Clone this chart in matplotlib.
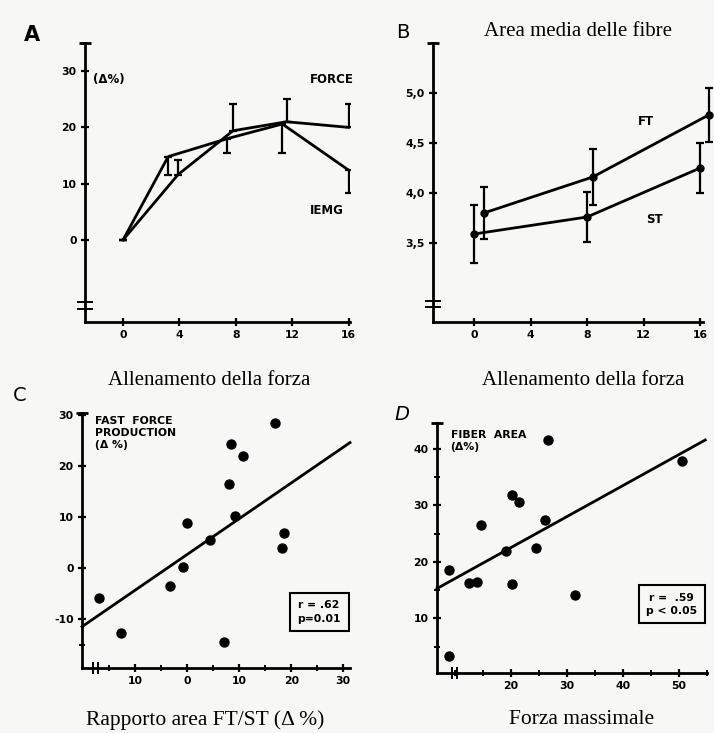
import numpy as np
import matplotlib
matplotlib.use("Agg")
import matplotlib.pyplot as plt

# ---------------- data ----------------
# A: force / iEMG change during strength training (weeks)
force_x = [0, 3.9, 7.8, 11.6, 16]
force_y = [0, 11.6, 19.4, 21.0, 20.0]
force_err_up = [0, 2.6, 4.7, 4.0, 4.1]

iemg_x = [0, 3.2, 7.4, 11.3, 16]
iemg_y = [0, 14.8, 18.0, 20.6, 12.4]
iemg_err_down = [0, 3.2, 2.6, 5.1, 4.1]

# B: mean fibre area
ft_x = [0.7, 8.4, 16.6]
ft_y = [3.80, 4.16, 4.78]
ft_err = [0.26, 0.28, 0.27]
st_x = [0, 8, 16]
st_y = [3.59, 3.76, 4.25]
st_err = [0.29, 0.25, 0.25]

# C: fast force production vs FT/ST area ratio
c_x = [-16.9, -12.7, -3.3, -0.8, 0.0, 4.4, 7.1, 8.1, 8.5, 9.2, 10.7, 16.9, 18.6, 18.2]
c_y = [-5.9, -12.7, -3.5, 0.2, 8.8, 5.5, -14.5, 16.5, 24.3, 10.2, 22.0, 28.4, 6.9, 3.9]
c_fit_x = [-20.2, 31.3]
c_fit_y = [-11.5, 24.6]

# D: fibre area vs maximal force
d_x = [8.9, 8.9, 12.6, 13.9, 14.7, 19.1, 20.2, 21.4, 20.2, 24.4, 26.1, 26.7, 31.4, 50.5]
d_y = [18.6, 3.3, 16.3, 16.5, 26.5, 22.0, 31.9, 30.6, 16.1, 22.5, 27.4, 41.6, 14.2, 37.9]
d_fit_x = [6.8, 54.7]
d_fit_y = [15.3, 41.6]

W, H = 714, 733
fig = plt.figure(figsize=(W / 100, H / 100), dpi=100)
fig.patch.set_facecolor("#f7f7f5")

serif = "Liberation Serif"
tick_font = dict(family="DejaVu Sans", weight="bold", size=7.8)
lw = 2.0


def make_axes(x0, y0, x1, y1):
    # pixel box -> figure fraction
    ax = fig.add_axes([x0 / W, 1 - y1 / H, (x1 - x0) / W, (y1 - y0) / H])
    ax.set_facecolor("none")
    for s in ["top", "right"]:
        ax.spines[s].set_visible(False)
    for s in ["left", "bottom"]:
        ax.spines[s].set_linewidth(2.0)
    ax.tick_params(direction="inout", length=6, width=1.6, pad=3)
    ax.tick_params(which="minor", direction="inout", length=5, width=1.4)
    # little cap on top of y axis
    ax.plot([0], [1], marker="_", ms=8, mew=2, color="k", transform=ax.transAxes, clip_on=False)
    return ax


def set_ticks(ax, xt, xl, yt, yl):
    ax.set_xticks(xt)
    ax.set_xticklabels(xl, **tick_font)
    ax.set_yticks(yt)
    ax.set_yticklabels(yl, **tick_font)


def ybreak(ax, frac):
    for d in (-0.012, 0.012):
        ax.plot([-0.025, 0.025], [frac + d, frac + d], color="k", lw=1.4,
                transform=ax.transAxes, clip_on=False)


def xbreak(ax, frac):
    for d in (-0.01, 0.01):
        ax.plot([frac + d, frac + d], [-0.02, 0.02], color="k", lw=1.4,
                transform=ax.transAxes, clip_on=False)


# ---------------- A ----------------
axA = make_axes(85, 43, 350, 322)
axA.set_xlim(-2.7, 16.1)
axA.set_ylim(-14.6, 35)
set_ticks(axA, [0, 4, 8, 12, 16], ["0", "4", "8", "12", "16"],
          [0, 10, 20, 30], ["0", "10", "20", "30"])
axA.errorbar(force_x, force_y, yerr=[np.zeros(len(force_x)), force_err_up],
             color="k", lw=lw, elinewidth=1.6, capsize=3, capthick=1.6)
axA.errorbar(iemg_x, iemg_y, yerr=[iemg_err_down, np.zeros(len(iemg_x))],
             color="k", lw=lw, elinewidth=1.6, capsize=3, capthick=1.6)
ybreak(axA, 0.06)
axA.text(0.03, 0.87, "(Δ%)", transform=axA.transAxes, fontsize=8.5, fontweight="bold", va="center")
axA.text(0.85, 0.87, "FORCE", transform=axA.transAxes, fontsize=8.5, fontweight="bold", va="center")
axA.text(0.85, 0.40, "IEMG", transform=axA.transAxes, fontsize=8.5, fontweight="bold", va="center")
fig.text(32 / W, 1 - 35 / H, "A", fontsize=15, fontweight="bold", ha="center", va="center")
fig.text(209 / W, 1 - 380 / H, "Allenamento della forza", family=serif, fontsize=15,
         ha="center", va="center")

# ---------------- B ----------------
axB = make_axes(433, 43, 703, 322)
axB.set_xlim(-2.9, 16.2)
axB.set_ylim(2.71, 5.5)
set_ticks(axB, [0, 4, 8, 12, 16], ["0", "4", "8", "12", "16"],
          [3.5, 4.0, 4.5, 5.0], ["3,5", "4,0", "4,5", "5,0"])
axB.errorbar(ft_x, ft_y, yerr=ft_err, color="k", lw=lw, marker="o", ms=5,
             elinewidth=1.6, capsize=3, capthick=1.6, clip_on=False)
axB.errorbar(st_x, st_y, yerr=st_err, color="k", lw=lw, marker="o", ms=5,
             elinewidth=1.6, capsize=3, capthick=1.6, clip_on=False)
ybreak(axB, 0.065)
axB.text(0.76, 0.72, "FT", transform=axB.transAxes, fontsize=8.5, fontweight="bold", va="center")
axB.text(0.79, 0.366, "ST", transform=axB.transAxes, fontsize=8.5, fontweight="bold", va="center")
fig.text(403 / W, 1 - 33 / H, "B", fontsize=14, ha="center", va="center")
fig.text(578 / W, 1 - 32 / H, "Area media delle fibre", family=serif, fontsize=15,
         ha="center", va="center")
fig.text(583 / W, 1 - 380 / H, "Allenamento della forza", family=serif, fontsize=15,
         ha="center", va="center")

# ---------------- C ----------------
axC = make_axes(82, 413, 350, 668)
axC.set_xlim(-20.2, 31.3)
axC.set_ylim(-19.6, 30.4)
set_ticks(axC, [-10, 0, 10, 20, 30], ["10", "0", "10", "20", "30"],
          [-10, 0, 10, 20, 30], ["-10", "0", "10", "20", "30"])
axC.set_xticks([-15, -5, 5, 15, 25], minor=True)
axC.set_yticks([-15], minor=True)
axC.scatter(c_x, c_y, s=42, color="k", zorder=3)
axC.plot(c_fit_x, c_fit_y, color="k", lw=lw, clip_on=False)
xbreak(axC, 0.05)
axC.text(0.05, 0.99, "FAST  FORCE\nPRODUCTION\n(Δ %)", transform=axC.transAxes,
         fontsize=7.8, fontweight="bold", va="top", linespacing=1.25)
axC.text(0.885, 0.22, "r = .62\np=0.01", transform=axC.transAxes, fontsize=7.8,
         fontweight="bold", ha="center", va="center", linespacing=1.4,
         bbox=dict(boxstyle="square,pad=0.7", fc="none", ec="k", lw=1.5))
fig.text(20 / W, 1 - 395 / H, "C", fontsize=14, ha="center", va="center")
fig.text(205 / W, 1 - 720 / H, "Rapporto area FT/ST (Δ %)", family=serif, fontsize=15.5,
         ha="center", va="center")

# ---------------- D ----------------
axD = make_axes(437, 423, 707, 673)
axD.set_xlim(6.8, 54.2)
axD.set_ylim(0.35, 44.6)
set_ticks(axD, [20, 30, 40, 50], ["20", "30", "40", "50"],
          [10, 20, 30, 40], ["10", "20", "30", "40"])
axD.set_xticks([10, 15, 25, 35, 45, 55], minor=True)
axD.set_yticks([5, 15, 25, 35], minor=True)
axD.scatter(d_x, d_y, s=42, color="k", zorder=3, clip_on=False)
axD.plot(d_fit_x, d_fit_y, color="k", lw=lw, clip_on=False)
xbreak(axD, 0.065)
axD.text(0.05, 0.97, "FIBER  AREA\n(Δ%)", transform=axD.transAxes,
         fontsize=7.8, fontweight="bold", va="top", linespacing=1.25)
axD.text(0.87, 0.275, "r =  .59\np < 0.05", transform=axD.transAxes, fontsize=7.8,
         fontweight="bold", ha="center", va="center", linespacing=1.4,
         bbox=dict(boxstyle="square,pad=0.7", fc="none", ec="k", lw=1.5))
fig.text(402 / W, 1 - 415 / H, "D", fontsize=14, style="italic", ha="center", va="center")
fig.text(582 / W, 1 - 720 / H, "Forza massimale", family=serif, fontsize=15.5,
         ha="center", va="center")

fig.savefig("out.png", dpi=100, facecolor=fig.get_facecolor())
